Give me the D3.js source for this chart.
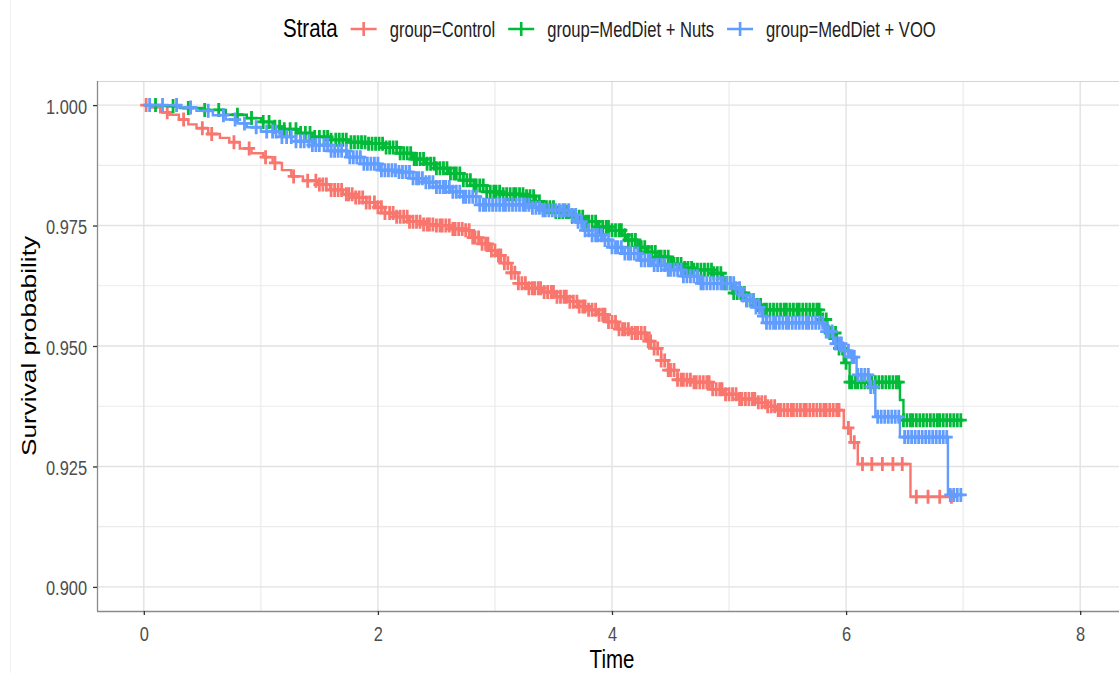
<!DOCTYPE html>
<html>
<head>
<meta charset="utf-8">
<script src="https://cdn.jsdelivr.net/npm/d3@7"></script>
<style>
  body { margin: 0; background: #fff; }
  text { font-family: "Liberation Sans", Arial, sans-serif; }
</style>
</head>
<body>
<div id="chart"></div>
<script>
// survival curves: step times and survival after each step
var controlTime = [0, 0.06, 0.14, 0.22, 0.3, 0.38, 0.45, 0.55, 0.65, 0.73, 0.82, 0.92, 1.02, 1.1, 1.18, 1.26, 1.36, 1.48, 1.59, 1.7, 1.8, 1.9, 1.98, 2.06, 2.15, 2.26, 2.38, 2.5, 2.62, 2.73, 2.8, 2.87, 2.95, 3.02, 3.08, 3.14, 3.2, 3.27, 3.4, 3.52, 3.62, 3.72, 3.8, 3.88, 3.96, 4.05, 4.15, 4.3, 4.36, 4.42, 4.48, 4.56, 4.7, 4.85, 4.95, 5.08, 5.25, 5.32, 5.4, 5.98, 6.04, 6.1, 6.55];
var controlSurv = [1, 0.9995, 0.9985, 0.998, 0.997, 0.996, 0.9952, 0.994, 0.9932, 0.9923, 0.991, 0.99, 0.9892, 0.988, 0.9865, 0.9852, 0.9843, 0.9835, 0.9824, 0.9815, 0.9808, 0.9798, 0.9788, 0.9776, 0.9768, 0.9758, 0.9752, 0.975, 0.9743, 0.974, 0.9725, 0.9712, 0.9698, 0.9688, 0.9672, 0.9652, 0.963, 0.962, 0.9612, 0.9602, 0.9592, 0.9582, 0.9575, 0.9565, 0.955, 0.9535, 0.9527, 0.951, 0.9495, 0.947, 0.945, 0.943, 0.9425, 0.941, 0.94, 0.939, 0.9383, 0.9375, 0.9367, 0.933, 0.93, 0.9255, 0.9187];
var controlEnd = 6.9;

var nutsTime = [0, 0.15, 0.31, 0.5, 0.7, 0.88, 1.0, 1.1, 1.2, 1.32, 1.44, 1.6, 1.75, 1.9, 2.05, 2.19, 2.3, 2.4, 2.5, 2.6, 2.73, 2.82, 2.93, 3.05, 3.27, 3.35, 3.41, 3.52, 3.64, 3.76, 3.87, 4.0, 4.09, 4.13, 4.22, 4.3, 4.38, 4.5, 4.6, 4.69, 4.86, 4.95, 5.03, 5.15, 5.22, 5.29, 5.78, 5.84, 5.92, 5.98, 6.03, 6.46, 6.49];
var nutsSurv = [1, 0.9998, 0.9994, 0.999, 0.998, 0.9973, 0.9965, 0.9955, 0.995, 0.9942, 0.9934, 0.9928, 0.9923, 0.992, 0.9912, 0.99, 0.9888, 0.9878, 0.9869, 0.9858, 0.9844, 0.9833, 0.982, 0.9815, 0.9811, 0.98, 0.9788, 0.9778, 0.9768, 0.9758, 0.9747, 0.974, 0.973, 0.972, 0.9705, 0.9695, 0.9685, 0.967, 0.9662, 0.9658, 0.9651, 0.963, 0.961, 0.9595, 0.9585, 0.9575, 0.9555, 0.9527, 0.9495, 0.9465, 0.9425, 0.9388, 0.9346];
var nutsEnd = 7.0;

var vooTime = [0, 0.3, 0.45, 0.59, 0.7, 0.8, 0.88, 1.0, 1.16, 1.3, 1.44, 1.6, 1.74, 1.88, 2.02, 2.16, 2.3, 2.4, 2.5, 2.62, 2.73, 2.87, 3.3, 3.41, 3.64, 3.7, 3.75, 3.83, 3.92, 4.0, 4.09, 4.24, 4.35, 4.47, 4.6, 4.75, 5.05, 5.1, 5.15, 5.22, 5.28, 5.32, 5.82, 5.89, 5.97, 6.04, 6.09, 6.2, 6.25, 6.46, 6.87];
var vooSurv = [1, 0.9995, 0.9988, 0.9979, 0.997, 0.9962, 0.9954, 0.9945, 0.9934, 0.9925, 0.9917, 0.9905, 0.9892, 0.9878, 0.9865, 0.9861, 0.9848, 0.984, 0.983, 0.982, 0.981, 0.9793, 0.9787, 0.9782, 0.9772, 0.9758, 0.974, 0.973, 0.972, 0.9705, 0.9692, 0.9678, 0.9668, 0.9658, 0.9645, 0.963, 0.962, 0.9605, 0.9595, 0.958, 0.9562, 0.9548, 0.953, 0.9505, 0.949, 0.9477, 0.944, 0.9415, 0.9353, 0.9311, 0.9191];
var vooEnd = 6.98;

// censoring times
var controlCensor = [0.02, 0.2, 0.34, 0.5, 0.58, 0.77, 0.9, 1.04, 1.12, 1.28, 1.4, 1.47, 1.53, 1.6, 1.66, 1.73, 1.78, 1.84, 1.9, 1.97, 2.03, 2.1, 2.16, 2.22, 2.27, 2.33, 2.39, 2.44, 2.5, 2.55, 2.61, 2.66, 2.72, 2.78, 2.83, 2.89, 2.94, 3.0, 3.05, 3.11, 3.17, 3.23, 3.29, 3.34, 3.39, 3.45, 3.5, 3.56, 3.61, 3.67, 3.72, 3.77, 3.83, 3.89, 3.94, 4.0, 4.06, 4.11, 4.17, 4.22, 4.28, 4.33, 4.39, 4.45, 4.5, 4.56, 4.61, 4.67, 4.72, 4.78, 4.83, 4.89, 4.94, 5.0, 5.06, 5.11, 5.17, 5.22, 5.28, 5.33, 5.39, 5.44, 5.5, 5.55, 5.61, 5.66, 5.72, 5.78, 5.83, 5.89, 5.94, 6.02, 6.07, 6.14, 6.22, 6.31, 6.4, 6.48, 6.6, 6.7, 6.8, 6.9];
var controlCensorMore = [1.5, 1.56, 1.63, 1.69, 1.75, 1.81, 1.87, 1.93, 2.0, 2.06, 2.13, 2.19, 2.25, 2.3, 2.36, 2.42, 2.47, 2.53, 2.58, 2.64, 2.69, 2.75, 2.81, 2.86, 2.92, 2.97, 3.03, 3.08, 3.14, 3.2, 3.26, 3.32, 3.37, 3.42, 3.48, 3.53, 3.59, 3.64, 3.7, 3.75, 3.8, 3.86, 3.92, 3.97, 4.03, 4.09, 4.14, 4.2, 4.25, 4.31, 4.36, 4.42, 4.48, 4.53, 4.59, 4.64, 4.7, 4.75, 4.81, 4.86, 4.92, 4.97, 5.03, 5.09, 5.14, 5.2, 5.25, 5.31, 5.36, 5.42, 5.47, 5.53, 5.58, 5.64, 5.69, 5.75, 5.81, 5.86, 5.92];
var nutsCensor = [0.1, 0.25, 0.38, 0.52, 0.64, 0.8, 0.92, 1.02, 1.12, 1.2, 1.3, 1.38, 1.46, 1.54, 1.6, 1.67, 1.73, 1.8, 1.86, 1.92, 1.98, 2.04, 2.1, 2.16, 2.22, 2.28, 2.33, 2.39, 2.45, 2.5, 2.56, 2.62, 2.67, 2.73, 2.79, 2.84, 2.9, 2.96, 3.01, 3.07, 3.13, 3.18, 3.24, 3.3, 3.35, 3.41, 3.47, 3.52, 3.58, 3.63, 3.69, 3.75, 3.8, 3.86, 3.92, 3.97, 4.03, 4.08, 4.14, 4.2, 4.25, 4.31, 4.37, 4.42, 4.48, 4.53, 4.59, 4.65, 4.7, 4.76, 4.82, 4.87, 4.93, 4.98, 5.04, 5.1, 5.15, 5.21, 5.27, 5.32, 5.38, 5.44, 5.49, 5.55, 5.6, 5.66, 5.72, 5.77, 5.83, 5.88, 5.94, 6.0, 6.05, 6.1, 6.16, 6.22, 6.28, 6.34, 6.4, 6.45, 6.52, 6.57, 6.63, 6.69, 6.75, 6.8, 6.86, 6.92, 6.98];
var nutsCensorMore = [1.07, 1.16, 1.25, 1.34, 1.42, 1.5, 1.57, 1.64, 1.7, 1.77, 1.83, 1.89, 1.95, 2.01, 2.07, 2.13, 2.19, 2.25, 2.31, 2.36, 2.42, 2.48, 2.53, 2.59, 2.65, 2.7, 2.76, 2.82, 2.87, 2.93, 2.99, 3.04, 3.1, 3.16, 3.21, 3.27, 3.33, 3.38, 3.44, 3.5, 3.55, 3.61, 3.66, 3.72, 3.78, 3.83, 3.89, 3.95, 4.0, 4.06, 4.11, 4.17, 4.23, 4.28, 4.34, 4.4, 4.45, 4.51, 4.56, 4.62, 4.68, 4.73, 4.79, 4.85, 4.9, 4.96, 5.01, 5.07, 5.13, 5.18, 5.24, 5.3, 5.35, 5.41, 5.47, 5.52, 5.58, 5.63, 5.69, 5.75, 5.8, 5.86, 5.91, 5.97, 6.03, 6.08, 6.13, 6.19, 6.25, 6.31, 6.37, 6.43, 6.49, 6.55, 6.6, 6.66, 6.72, 6.78, 6.83, 6.89, 6.95];
var vooCensor = [0.05, 0.16, 0.28, 0.4, 0.55, 0.68, 0.78, 0.86, 0.96, 1.05, 1.13, 1.22, 1.3, 1.37, 1.44, 1.5, 1.57, 1.63, 1.69, 1.76, 1.82, 1.88, 1.94, 2.0, 2.06, 2.12, 2.18, 2.24, 2.3, 2.35, 2.41, 2.47, 2.53, 2.58, 2.64, 2.7, 2.75, 2.81, 2.87, 2.92, 2.98, 3.04, 3.09, 3.15, 3.21, 3.26, 3.32, 3.38, 3.43, 3.49, 3.55, 3.6, 3.66, 3.71, 3.77, 3.83, 3.88, 3.94, 4.0, 4.05, 4.11, 4.16, 4.22, 4.28, 4.33, 4.39, 4.45, 4.5, 4.56, 4.61, 4.67, 4.73, 4.78, 4.84, 4.9, 4.95, 5.01, 5.06, 5.12, 5.18, 5.23, 5.29, 5.35, 5.4, 5.46, 5.51, 5.57, 5.63, 5.68, 5.74, 5.8, 5.85, 5.91, 5.96, 6.02, 6.07, 6.13, 6.19, 6.24, 6.3, 6.36, 6.42, 6.5, 6.56, 6.62, 6.68, 6.74, 6.8, 6.86, 6.92, 6.98];
var vooCensorMore = [1.1, 1.18, 1.26, 1.34, 1.41, 1.47, 1.54, 1.6, 1.66, 1.73, 1.79, 1.85, 1.91, 1.97, 2.03, 2.09, 2.15, 2.21, 2.27, 2.33, 2.38, 2.44, 2.5, 2.56, 2.61, 2.67, 2.73, 2.78, 2.84, 2.9, 2.95, 3.01, 3.07, 3.12, 3.18, 3.24, 3.29, 3.35, 3.41, 3.46, 3.52, 3.58, 3.63, 3.69, 3.74, 3.8, 3.86, 3.91, 3.97, 4.03, 4.08, 4.14, 4.19, 4.25, 4.31, 4.36, 4.42, 4.48, 4.53, 4.59, 4.64, 4.7, 4.76, 4.81, 4.87, 4.93, 4.98, 5.04, 5.09, 5.15, 5.21, 5.26, 5.32, 5.38, 5.43, 5.49, 5.54, 5.6, 5.66, 5.71, 5.77, 5.83, 5.88, 5.94, 5.99, 6.05, 6.1, 6.16, 6.21, 6.27, 6.33, 6.39, 6.45, 6.53, 6.59, 6.65, 6.71, 6.77, 6.83, 6.89, 6.95];

var groupNames = ["group=Control", "group=MedDiet + Nuts", "group=MedDiet + VOO"];
var groupColors = ["#F8766D", "#00BA38", "#619CFF"];
var xTicks = [0, 2, 4, 6, 8];
var xMinor = [1, 3, 5, 7];
var yTicks = [0.900, 0.925, 0.950, 0.975, 1.000];
var yMinor = [0.9125, 0.9375, 0.9625, 0.9875];

var svgWidth = 1119;
var svgHeight = 673;
var SY = 1.28; // text in the picture is stretched vertically

var panel = { left: 97, top: 81, bottom: 611 };

var x = d3.scaleLinear().domain([-0.4, 8.4]).range([panel.left, 1127]);
var y = d3.scaleLinear().domain([0.895, 1.005]).range([panel.bottom, panel.top]);

var svg = d3.select("#chart").append("svg")
  .attr("width", svgWidth)
  .attr("height", svgHeight);

svg.append("rect").attr("width", svgWidth).attr("height", svgHeight).attr("fill", "#fff");

// faint frame line on the left of the screenshot
svg.append("line")
  .attr("x1", 10.5).attr("x2", 10.5).attr("y1", 0).attr("y2", svgHeight)
  .attr("stroke", "#f2f2f2").attr("stroke-width", 1);

function stretchedText(g, px, py, str, size, anchor, color) {
  return g.append("text")
    .attr("transform", `translate(${px},${py}) scale(1,${SY})`)
    .attr("text-anchor", anchor)
    .style("font-size", size + "px")
    .attr("fill", color)
    .text(str);
}

svg.append("defs").append("clipPath").attr("id", "clip")
  .append("rect")
  .attr("x", panel.left).attr("y", panel.top)
  .attr("width", svgWidth - panel.left).attr("height", panel.bottom - panel.top);

// grid
var grid = svg.append("g");
grid.selectAll(".xminor").data(xMinor).enter().append("line")
  .attr("x1", d => x(d)).attr("x2", d => x(d))
  .attr("y1", panel.top).attr("y2", panel.bottom)
  .attr("stroke", "#ebebeb").attr("stroke-width", 1.2);
grid.selectAll(".yminor").data(yMinor).enter().append("line")
  .attr("x1", panel.left).attr("x2", svgWidth)
  .attr("y1", d => y(d)).attr("y2", d => y(d))
  .attr("stroke", "#ebebeb").attr("stroke-width", 1.2);
grid.selectAll(".xmajor").data(xTicks).enter().append("line")
  .attr("x1", d => x(d)).attr("x2", d => x(d))
  .attr("y1", panel.top).attr("y2", panel.bottom)
  .attr("stroke", "#e2e2e2").attr("stroke-width", 1.4);
grid.selectAll(".ymajor").data(yTicks).enter().append("line")
  .attr("x1", panel.left).attr("x2", svgWidth)
  .attr("y1", d => y(d)).attr("y2", d => y(d))
  .attr("stroke", "#e2e2e2").attr("stroke-width", 1.4);

// top border of panel
svg.append("line")
  .attr("x1", panel.left).attr("x2", svgWidth)
  .attr("y1", panel.top + 0.5).attr("y2", panel.top + 0.5)
  .attr("stroke", "#d4d4d4").attr("stroke-width", 1);

// curves
var groups = [
  { time: controlTime, surv: controlSurv, end: controlEnd, censor: controlCensor.concat(controlCensorMore) },
  { time: nutsTime, surv: nutsSurv, end: nutsEnd, censor: nutsCensor.concat(nutsCensorMore) },
  { time: vooTime, surv: vooSurv, end: vooEnd, censor: vooCensor.concat(vooCensorMore) }
];

var line = d3.line()
  .x(d => x(d[0]))
  .y(d => y(d[1]))
  .curve(d3.curveStepAfter);

var plot = svg.append("g").attr("clip-path", "url(#clip)");
var bis = d3.bisector(d => d).right;

groups.forEach(function(g, i) {
  var pts = g.time.map((t, j) => [t, g.surv[j]]);
  pts.push([g.end, g.surv[g.surv.length - 1]]);
  plot.append("path")
    .datum(pts)
    .attr("d", line)
    .attr("fill", "none")
    .attr("stroke", groupColors[i])
    .attr("stroke-width", 2.4);

  var marks = g.censor.map(function(t) {
    var k = Math.max(0, bis(g.time, t) - 1);
    return [t, g.surv[k]];
  });
  plot.selectAll(".c" + i).data(marks).enter().append("path")
    .attr("transform", d => `translate(${x(d[0])},${y(d[1])})`)
    .attr("d", "M-6,0H6M0,-7V7")
    .attr("stroke", groupColors[i])
    .attr("stroke-width", 2.8)
    .attr("fill", "none");
});

// axes
var yAxis = svg.append("g")
  .attr("transform", `translate(${panel.left},0)`)
  .call(d3.axisLeft(y).tickValues(yTicks).tickSize(4).tickFormat(d3.format(".3f")));
var xAxis = svg.append("g")
  .attr("transform", `translate(0,${panel.bottom})`)
  .call(d3.axisBottom(x).tickValues(xTicks).tickSize(4).tickFormat(d3.format("d")));

[xAxis, yAxis].forEach(function(a) {
  a.select(".domain").attr("stroke", "#8a8a8a").attr("stroke-width", 1.3);
  a.selectAll(".tick line").attr("stroke", "#333").attr("stroke-width", 1.3);
  a.selectAll(".tick text")
    .attr("fill", "#4d4d4d")
    .style("font-size", "16.4px")
    .style("font-family", "'Liberation Sans', Arial, sans-serif")
    .attr("dy", 0);
});
yAxis.selectAll(".tick text").attr("x", 0).attr("y", 0)
  .attr("transform", `translate(-10,8) scale(1,${SY})`);
xAxis.selectAll(".tick text").attr("x", 0).attr("y", 0)
  .attr("transform", `translate(0,30) scale(1,${SY})`);
// axis domain: only the line, no end ticks
yAxis.select(".domain").attr("d", `M0.5,${panel.top}V${panel.bottom}`);
xAxis.select(".domain").attr("d", `M${panel.left},0.5H${svgWidth}`);

// axis titles
stretchedText(svg, 612, 668, "Time", 20.5, "middle", "#000");
svg.append("text")
  .attr("transform", `translate(36,346) rotate(-90) scale(${SY},1)`)
  .attr("text-anchor", "middle")
  .style("font-size", "20.5px")
  .attr("fill", "#000")
  .text("Survival probability");

// legend
var legend = svg.append("g");
var title = stretchedText(legend, 283, 37, "Strata", 20.5, "start", "#000");
var cursor = 283 + title.node().getComputedTextLength() + 26;
groupNames.forEach(function(name, i) {
  legend.append("path")
    .attr("transform", `translate(${cursor},29)`)
    .attr("d", "M-13,0H13M0,-7V7")
    .attr("stroke", groupColors[i])
    .attr("stroke-width", 2.6)
    .attr("fill", "none");
  var t = stretchedText(legend, cursor + 26, 37, name, 16.6, "start", "#222");
  cursor = cursor + 26 + t.node().getComputedTextLength() + 26;
});
</script>
</body>
</html>
